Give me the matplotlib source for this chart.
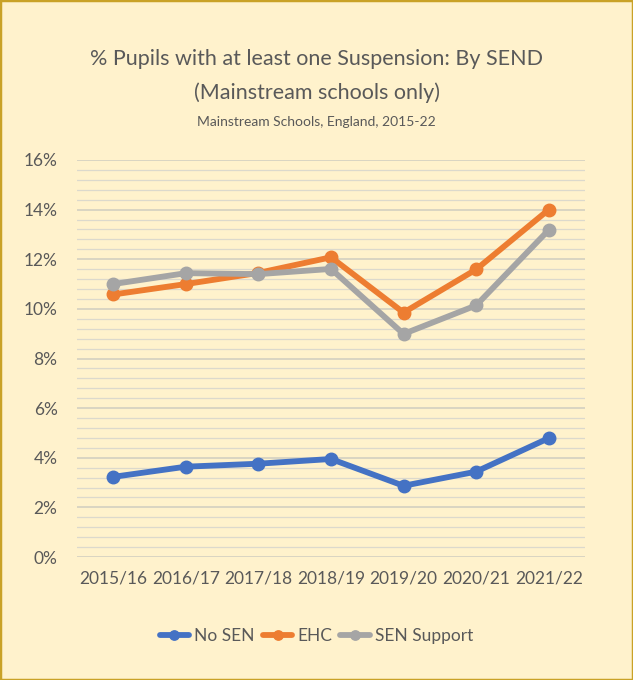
import matplotlib
matplotlib.use("Agg")
import matplotlib.pyplot as plt
from matplotlib.ticker import MultipleLocator, FuncFormatter
from matplotlib.patches import Rectangle

years = ["2015/16", "2016/17", "2017/18", "2018/19", "2019/20", "2020/21", "2021/22"]
no_sen = [3.23, 3.64, 3.76, 3.95, 2.87, 3.44, 4.79]
ehc = [10.58, 11.0, 11.45, 12.08, 9.85, 11.59, 14.0]
sen_support = [11.0, 11.44, 11.4, 11.61, 8.99, 10.14, 13.18]

series = [("No SEN", no_sen, "#4472C4"), ("EHC", ehc, "#ED7D31"), ("SEN Support", sen_support, "#A5A5A5")]

plt.rcParams['font.family'] = ['Lato', 'DejaVu Sans']
bg = "#FFF2CC"
txt = "#595959"

fig = plt.figure(figsize=(6.33, 6.8), dpi=100, facecolor=bg)
fig.patches.append(Rectangle((0, 0), 1, 1, transform=fig.transFigure, fill=False,
                             edgecolor="#C9A227", linewidth=2.5, zorder=10))
ax = fig.add_axes([77/633, 1-557/680, (585-77)/633, (557-160)/680])
ax.set_facecolor(bg)

x = list(range(len(years)))
for name, vals, c in series:
    ax.plot(x, vals, color=c, lw=4.2, marker="o", ms=9, label=name, solid_capstyle="round", zorder=3)

ax.set_xlim(-0.5, len(years)-0.5)
ax.set_ylim(0, 16)
ax.yaxis.set_major_locator(MultipleLocator(2))
ax.yaxis.set_minor_locator(MultipleLocator(0.4))
ax.yaxis.set_major_formatter(FuncFormatter(lambda v, p: f"{v:.0f}%"))
ax.grid(axis="y", which="major", color="#D0CDC0", lw=1.1, zorder=0)
ax.grid(axis="y", which="minor", color="#DCD9CC", lw=0.9, zorder=0)
ax.set_xticks(x)
ax.set_xticklabels(years)
for s in ax.spines.values():
    s.set_visible(False)
ax.tick_params(axis="both", which="both", length=0, colors=txt, labelsize=12.5)
ax.tick_params(axis="x", pad=10)
ax.tick_params(axis="y", pad=14)

fig.text(0.5, 1-59/680, "% Pupils with at least one Suspension: By SEND", ha="center", va="center",
         fontsize=15.5, color=txt)
fig.text(0.5, 1-93/680, "(Mainstream schools only)", ha="center", va="center", fontsize=15.5, color=txt)
fig.text(0.5, 1-122/680, "Mainstream Schools, England, 2015-22", ha="center", va="center", fontsize=10, color=txt)

leg = fig.legend(loc="center", bbox_to_anchor=(0.5, 1-636/680), ncol=3, frameon=False,
                 fontsize=12.5, handlelength=1.7, columnspacing=0.45, handletextpad=0.3,
                 labelcolor=txt, markerscale=0.75)

fig.savefig("out.png", dpi=100, facecolor=bg)
